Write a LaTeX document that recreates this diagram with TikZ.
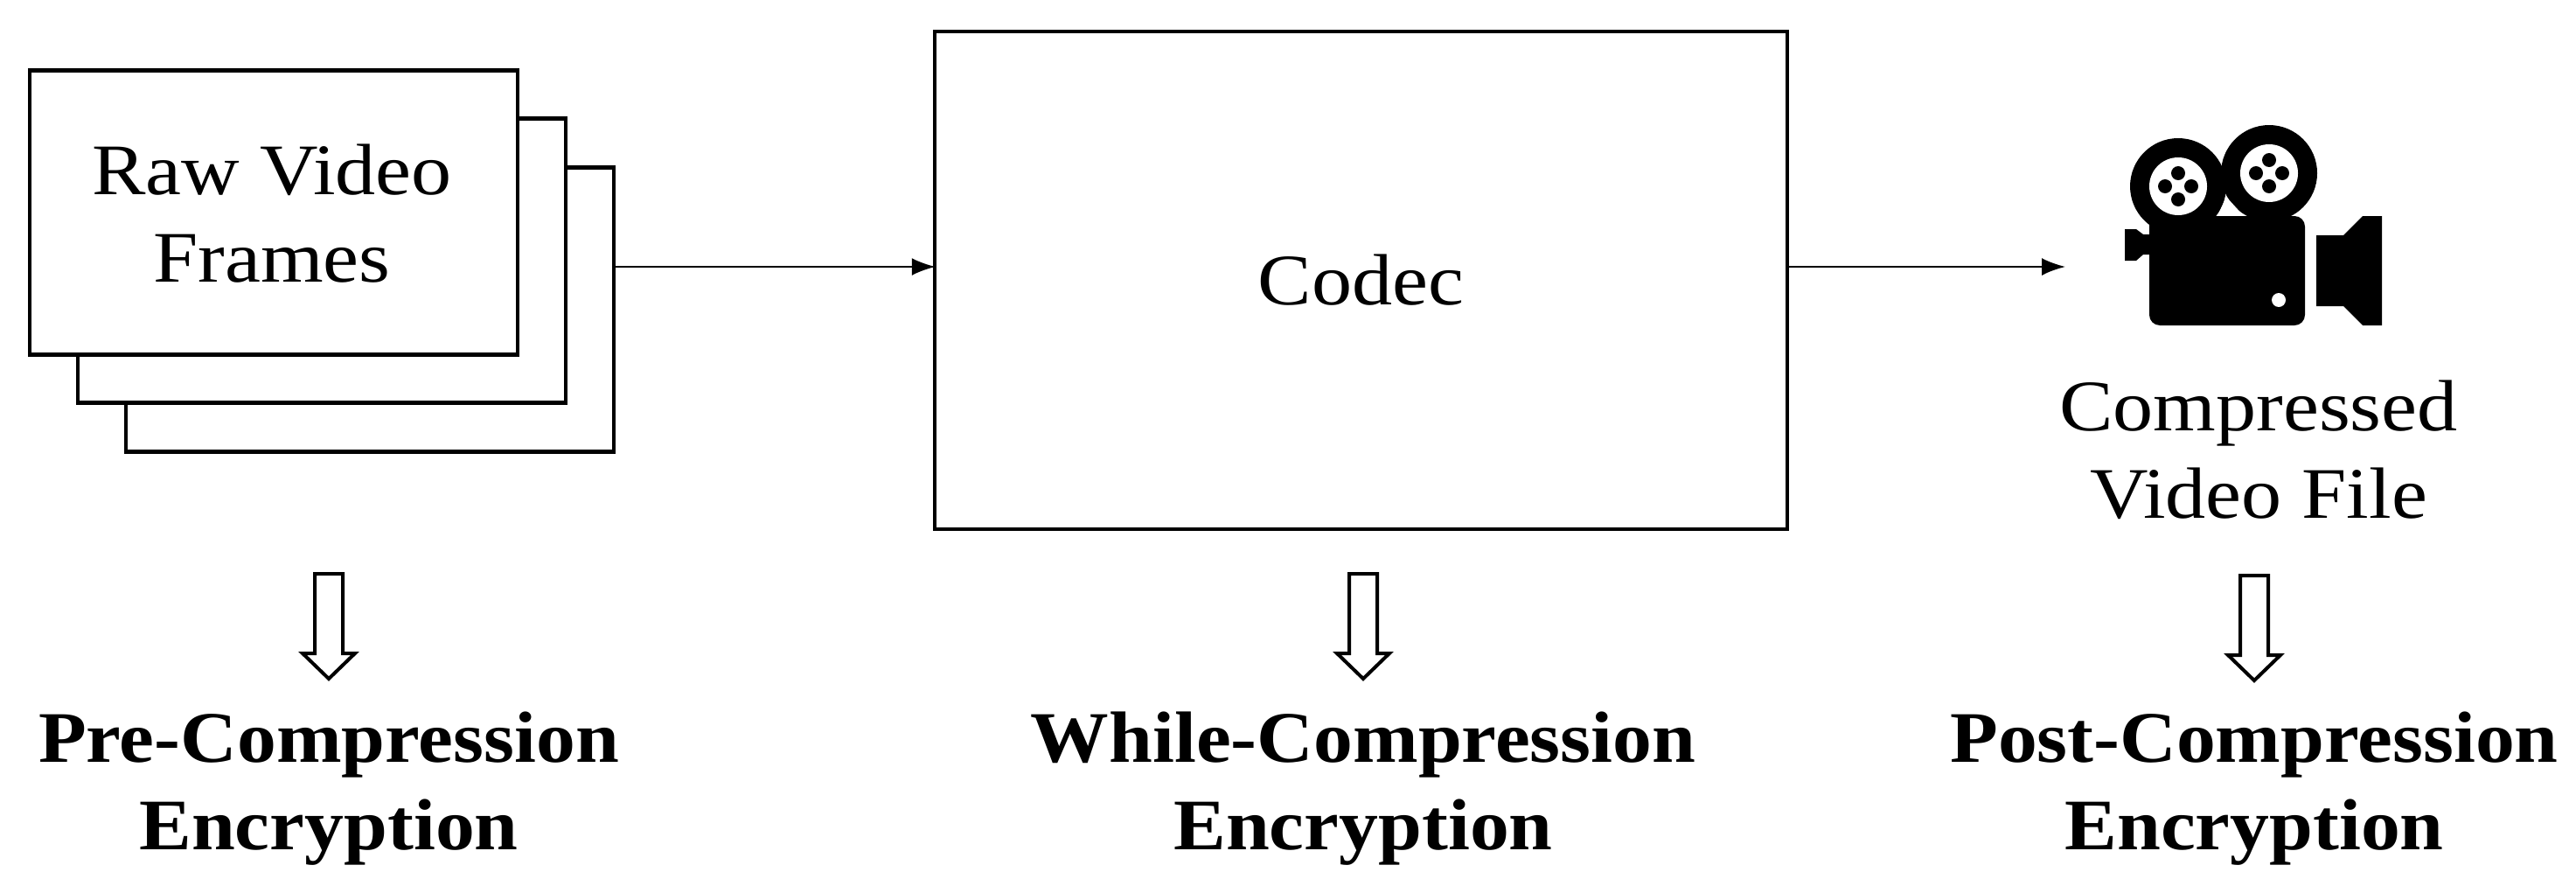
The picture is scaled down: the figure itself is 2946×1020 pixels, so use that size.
\documentclass[tikz,border=0pt]{standalone}
\usepackage{fontspec}
\setmainfont[FakeStretch=1.11,BoldFeatures={FakeStretch=1.08}]{Liberation Serif}
\usetikzlibrary{arrows.meta}
\tikzset{
  x=1pt,y=-1pt,
  framebox/.style={draw=black,fill=white,line width=4.5pt,minimum width=558pt,minimum height=325pt,inner sep=0pt},
  codecbox/.style={draw=black,fill=white,line width=4.5pt,minimum width=975pt,minimum height=569pt,inner sep=0pt,font=\fontsize{83pt}{100pt}\selectfont},
  flow/.style={draw=black,line width=2.5pt,-{Latex[length=27pt,width=20pt]}},
  plain/.style={inner sep=0pt,align=center,font=\fontsize{83pt}{100pt}\selectfont},
  strong/.style={inner sep=0pt,align=center,font=\fontsize{83pt}{100pt}\selectfont\bfseries},
  hollow/.style={draw=black,fill=white,line width=4pt,miter limit=10},
  down/.pic={\path[hollow] (-16,0)--(16,0)--(16,91)--(30,91)--(0,120)--(-30,91)--(-16,91)--cycle;}
}
\begin{document}
\begin{tikzpicture}
\useasboundingbox[fill=white] (0,0) rectangle (2946,1020);
\node[framebox] (f3) at (423,354) {};
\node[framebox] (f2) at (368,298) {};
\node[framebox] (f1) at (313,243) {};
\node[plain] (raw) at (311,244) {Raw Video\\Frames};
\node[codecbox] (codec) at (1556.5,320.5) {Codec};
\coordinate (camin) at (2362,305);
\draw[flow,shorten >=-3pt] (f3.east |- 0,305) -- (codec.west |- 0,305);
\draw[flow] (codec.east |- 0,305) -- (camin);
% camera
\fill[black] (2491,213) circle[radius=55];
\fill[black] (2595,198) circle[radius=55];
\fill[white] (2536,247) -- (2546,225) -- (2566,247) -- cycle;
\fill[black,rounded corners=12pt] (2458,247) rectangle (2636,372);
\fill[black] (2458,247) rectangle (2500,270);
\fill[black] (2430,262) -- (2443,262) -- (2451,268) -- (2460,268) -- (2460,291) -- (2451,291) -- (2443,298) -- (2430,298) -- cycle;
\fill[black] (2649,269) -- (2680,269) -- (2702,247) -- (2724,247) -- (2724,372) -- (2702,372) -- (2680,350) -- (2649,350) -- cycle;
\foreach \cx/\cy in {2491/213,2595/198}{
  \fill[white] (\cx,\cy) circle[radius=33];
  \fill[black] (\cx,\cy-15) circle[radius=8];
  \fill[black] (\cx,\cy+15) circle[radius=8];
  \fill[black] (\cx-15,\cy) circle[radius=8];
  \fill[black] (\cx+15,\cy) circle[radius=8];
}
\fill[white] (2606,343) circle[radius=8];
\node[plain] (comp) at (2583,514) {Compressed\\Video File};
\pic at (376,656) {down};
\pic at (1559,656) {down};
\pic at (2578,658) {down};
\node[strong] (pre) at (376,902) {Pre-Compression\\Encryption};
\node[strong] (while) at (1559,902) {While-Compression\\Encryption};
\node[strong] (post) at (2578,902) {Post-Compression\\Encryption};
\end{tikzpicture}
\end{document}
